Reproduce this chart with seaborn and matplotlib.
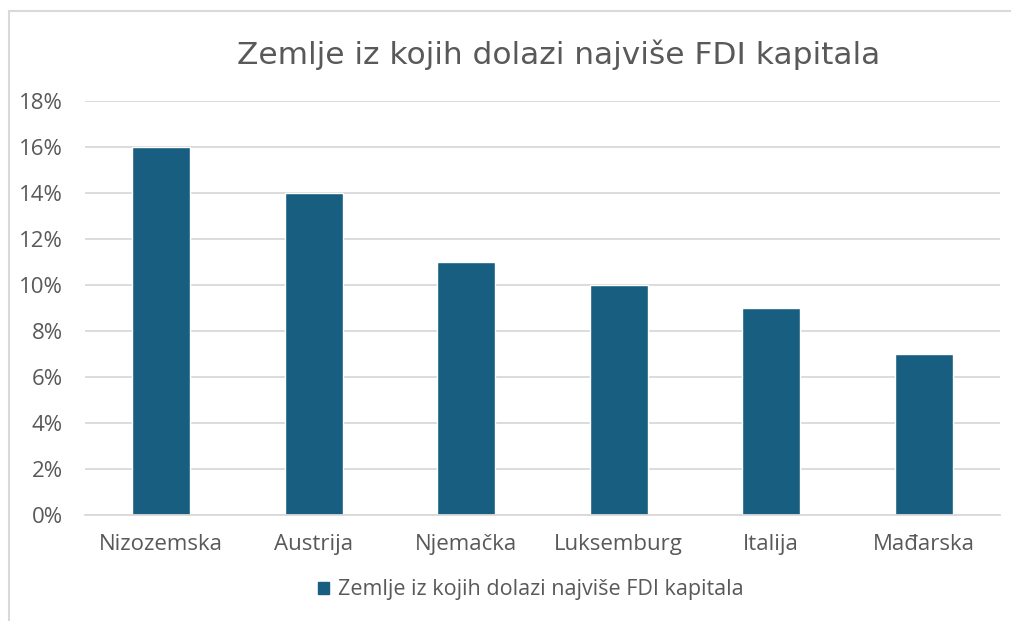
import matplotlib.pyplot as plt
import matplotlib.patches as mpatches
from matplotlib.ticker import FuncFormatter, FixedLocator
import seaborn as sns
import pandas as pd

# data
countries = ["Nizozemska", "Austrija", "Njemačka", "Luksemburg", "Italija", "Mađarska"]
shares = [0.16, 0.14, 0.11, 0.10, 0.09, 0.07]
series_name = "Zemlje iz kojih dolazi najviše FDI kapitala"

df = pd.DataFrame({"country": countries, "share": shares})

sns.set_style("white")
plt.rcParams["font.family"] = ["Open Sans", "DejaVu Sans"]

bar_color = "#175E80"
text_color = "#595959"
grid_color = "#D9D9D9"

fig = plt.figure(figsize=(10.11, 6.21), dpi=100)
ax = fig.add_axes([0.0841, 0.1707, 0.9049, 0.6667])

sns.barplot(data=df, x="country", y="share", color=bar_color, width=0.38,
            saturation=1, ax=ax, label=series_name)

ax.set_ylim(0, 0.18)
ax.set_xlim(-0.5, len(countries) - 0.5)
ax.yaxis.set_major_locator(FixedLocator([i / 100 for i in range(0, 19, 2)]))
ax.yaxis.set_major_formatter(FuncFormatter(lambda v, p: f"{round(v * 100)}%"))
ax.grid(axis="y", color=grid_color, linewidth=1.3)
ax.set_axisbelow(True)
for s in ["top", "right", "left"]:
    ax.spines[s].set_visible(False)
ax.spines["bottom"].set_color(grid_color)
ax.spines["bottom"].set_linewidth(1.3)

# tick marks between categories, like the original
ax.xaxis.set_minor_locator(FixedLocator([i - 0.5 for i in range(len(countries) + 1)]))
ax.tick_params(axis="x", which="minor", length=6, color=grid_color, width=1.3, direction="out")
ax.tick_params(axis="x", which="major", length=0, pad=14, labelsize=16, labelcolor=text_color)
ax.tick_params(axis="y", length=0, pad=16, labelsize=16, labelcolor=text_color)
ax.set_xlabel("")
ax.set_ylabel("")

fig.text(0.553, 0.912, series_name, ha="center", va="center", fontsize=22.5,
         color=text_color, family=["DejaVu Sans"])

handle = mpatches.Patch(color=bar_color, label=series_name)
fig.legend(handles=[handle], loc="center", bbox_to_anchor=(0.525, 0.05), frameon=False,
           fontsize=15.5, labelcolor=text_color, handlelength=0.5, handleheight=0.5,
           handletextpad=0.45)
if ax.get_legend():
    ax.get_legend().remove()

# outer chart border
fig.patches.append(mpatches.Rectangle((0.009, -0.1), 1.2, 1.083, transform=fig.transFigure,
                                      fill=False, edgecolor="#D9D9D9", linewidth=1.5))

fig.savefig("out.png", dpi=100)
